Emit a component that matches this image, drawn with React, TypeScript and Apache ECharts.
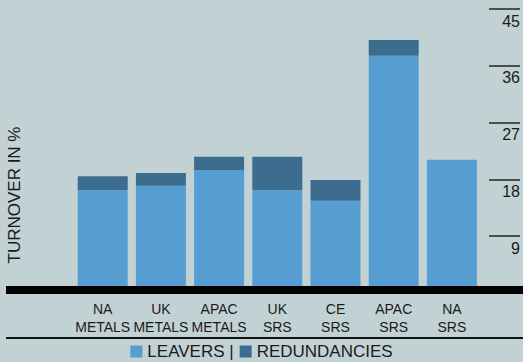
import React, { useEffect, useRef } from "react";
import * as echarts from "echarts";

const categories = ["NA\nMETALS", "UK\nMETALS", "APAC\nMETALS", "UK\nSRS", "CE\nSRS", "APAC\nSRS", "NA\nSRS"];
const leavers = [16.3, 17.0, 19.5, 16.3, 14.6, 37.6, 21.1];
const redundancies = [2.2, 2.0, 2.1, 5.3, 3.3, 2.5, 0];
const yTicks = { min: 0, max: 45, interval: 9 };

const FONT = "'Liberation Sans', Arial, sans-serif";
const BG = "#c2d1d4";
const C_LEAVERS = "#569ed2";
const C_RED = "#3c6d8e";
const INK = "#1a1a1a";

export default function App() {
  const ref = useRef<HTMLDivElement>(null);
  useEffect(() => {
    if (!ref.current) return;
    const chart = echarts.init(ref.current, undefined, { renderer: "svg" });
    chart.setOption({
      animation: false,
      backgroundColor: BG,
      textStyle: { fontFamily: FONT },
      grid: { left: 73.6, right: 38.6, top: 9, bottom: 69 },
      legend: {
        top: 343,
        left: "center",
        padding: 0,
        icon: "rect",
        itemWidth: 12,
        itemHeight: 12,
        itemGap: 6,
        textStyle: { fontSize: 17, color: INK, fontFamily: FONT },
        formatter: (name: string) => (name === "LEAVERS" ? "LEAVERS |" : name),
        data: ["LEAVERS", "REDUNDANCIES"],
      },
      xAxis: {
        type: "category",
        data: categories,
        axisLine: { show: false },
        axisTick: { show: false },
        axisLabel: { fontSize: 14, lineHeight: 18, color: INK, margin: 7, fontFamily: FONT, interval: 0 },
      },
      yAxis: {
        type: "value",
        position: "right",
        offset: 8,
        min: yTicks.min,
        max: yTicks.max,
        interval: yTicks.interval,
        splitLine: { show: false },
        axisLine: { show: false },
        axisTick: { show: true, length: 31, lineStyle: { color: "#222", width: 1.5 } },
        axisLabel: {
          showMinLabel: false,
          align: "right",
          verticalAlign: "top",
          padding: [4, 0, 0, 0],
          margin: 31,
          fontSize: 16,
          color: INK,
          fontFamily: FONT,
        },
      },
      series: [
        {
          name: "LEAVERS",
          type: "bar",
          stack: "t",
          barWidth: 50,
          itemStyle: { color: C_LEAVERS },
          data: leavers,
        },
        {
          name: "REDUNDANCIES",
          type: "bar",
          stack: "t",
          barWidth: 50,
          itemStyle: { color: C_RED },
          data: redundancies,
        },
      ],
      graphic: [
        { type: "rect", z: 100, shape: { x: 6, y: 286, width: 517, height: 8 }, style: { fill: "#000" } },
        { type: "rect", z: 100, shape: { x: 6, y: 337, width: 517, height: 2 }, style: { fill: "#111" } },
        {
          type: "text",
          x: 14,
          y: 195,
          rotation: Math.PI / 2,
          style: {
            text: "TURNOVER IN %",
            fontSize: 17,
            fontFamily: FONT,
            fill: INK,
            align: "center",
            verticalAlign: "middle",
          },
        },
      ],
    });
    return () => chart.dispose();
  }, []);
  return <div ref={ref} style={{ position: "fixed", left: 0, top: 0, width: 523, height: 362 }} />;
}
